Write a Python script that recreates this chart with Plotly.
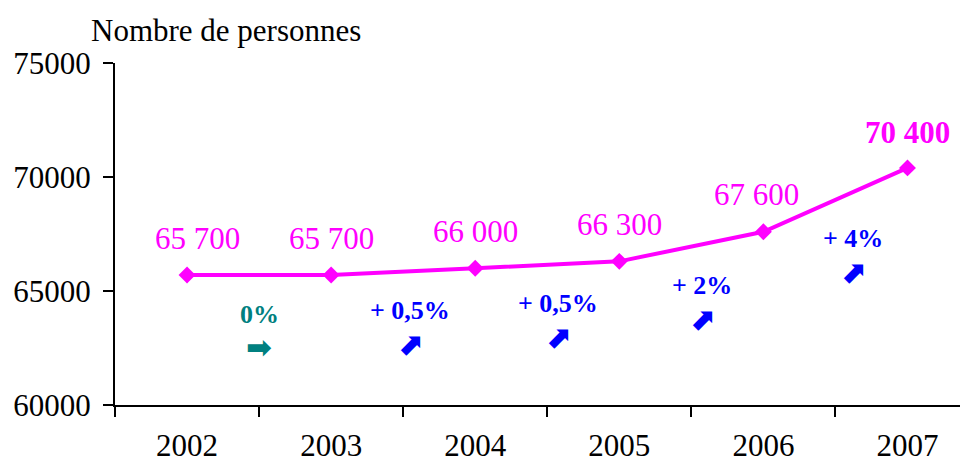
import plotly.graph_objects as go

years = ["2002", "2003", "2004", "2005", "2006", "2007"]
persons = [65700, 65700, 66000, 66300, 67600, 70400]
changes = ["0%", "+ 0,5%", "+ 0,5%", "+ 2%", "+ 4%"]
change_arrows = ["➡", "⬈", "⬈", "⬈", "⬈"]
change_colors = ["#008080", "#0000FF", "#0000FF", "#0000FF", "#0000FF"]
y_ticks = [60000, 65000, 70000, 75000]

SERIF = "Liberation Serif, Times New Roman, serif"
MAGENTA = "#FF00FF"


def fmt(v):
    return f"{v:,}".replace(",", " ")


fig = go.Figure()
fig.add_trace(go.Scatter(
    x=years,
    y=persons,
    mode="lines+markers",
    line=dict(color=MAGENTA, width=4),
    marker=dict(symbol="diamond", size=13, color=MAGENTA),
    hoverinfo="skip",
))

annotations = []
# value labels above each point (x as category index)
for i, v in enumerate(persons):
    last = i == len(persons) - 1
    annotations.append(dict(
        x=i, y=v, xref="x", yref="y",
        text=f"<b>{fmt(v)}</b>" if last else fmt(v),
        showarrow=False, yshift=37 if not last else 35,
        xshift=10 if i == 0 else (-7 if i == 4 else 0),
        font=dict(family=SERIF, size=31, color=MAGENTA),
    ))

# growth labels between consecutive years
xshifts = [0, 7, 11, 11, 18]
for i, (txt, arr, col) in enumerate(zip(changes, change_arrows, change_colors)):
    mid = (persons[i] + persons[i + 1]) / 2
    annotations.append(dict(
        x=i + 0.5, y=mid, xref="x", yref="y",
        text=f"<b>{txt}</b>", showarrow=False,
        yshift=-39, xshift=xshifts[i],
        font=dict(family=SERIF, size=26, color=col),
    ))
    annotations.append(dict(
        x=i + 0.5, y=mid, xref="x", yref="y",
        text=f"<b>{arr}</b>", showarrow=False,
        yshift=-72, xshift=xshifts[i],
        font=dict(family="DejaVu Sans", size=31, color=col),
    ))

annotations.append(dict(
    x=0, y=1, xref="paper", yref="paper",
    xanchor="left", yanchor="middle", xshift=-26, yshift=33,
    text="Nombre de personnes", showarrow=False,
    font=dict(family=SERIF, size=31, color="black"),
))

# page body adds an 8px offset, so the figure is sized/margined to compensate
fig.update_layout(
    width=960, height=456,
    margin=dict(l=107, r=0, t=55, b=59),
    paper_bgcolor="white", plot_bgcolor="white",
    showlegend=False,
    font=dict(family=SERIF, size=31, color="black"),
    annotations=annotations,
)
fig.update_xaxes(
    type="category", range=[-0.5, 5.42], automargin=False,
    tickson="boundaries", ticks="outside", ticklen=10, tickwidth=2,
    tickcolor="black", showline=True, linecolor="black", linewidth=2,
    showgrid=False, ticklabelstandoff=12,
)
fig.update_yaxes(
    range=[60000, 75000], tickvals=y_ticks, automargin=False,
    ticks="outside", ticklen=10, tickwidth=2, tickcolor="black",
    showline=True, linecolor="black", linewidth=2,
    showgrid=False, zeroline=False, tickformat="d",
    ticklabelstandoff=6,
)

fig.write_html("out.html")
